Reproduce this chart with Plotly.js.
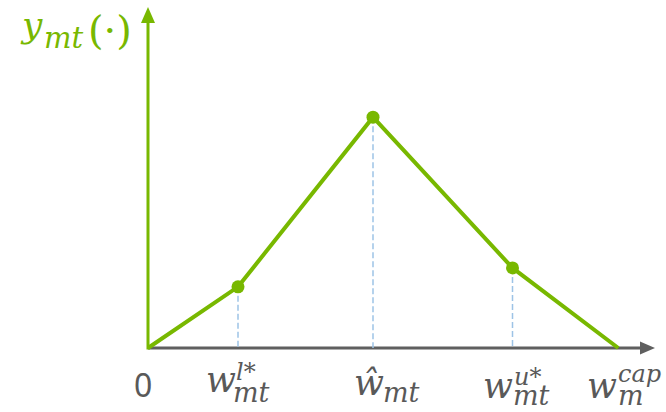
<!DOCTYPE html>
<html>
<head>
<meta charset="utf-8">
<script src="https://cdn.plot.ly/plotly-3.0.1.min.js"></script>
<style>
  html, body { margin: 0; padding: 0; background: #ffffff; }
  #chart { width: 666px; height: 412px; }
</style>
</head>
<body>
<div id="chart"></div>
<script>
// Piecewise-linear response y_mt(w): rises to a peak at ŵ_mt, then falls to zero at w_m^cap
const xKnots = [0, 2.0, 5.0, 8.1, 10.45];
const yKnots = [0, 1.36, 5.13, 1.78, 0];

// Axis label pieces under each knot: base symbol, subscript, superscript
const labelBase = ['0', 'w', 'ŵ', 'w', 'w'];
const labelSub  = ['',  'mt', 'mt', 'mt', 'm'];
const labelSup  = ['',  'l*', '',   'u*', 'cap'];

// Function name shown next to the vertical axis
const yName = { base: 'y', sub: 'mt', args: '(·)' };

// ---- geometry of the canvas ----
const W = 666, H = 412;
const X0 = 148, Y0 = 348;   // pixel position of the origin
const S = 45;               // pixels per data unit (both axes)
const px = v => v / S;      // pixel length -> data length

const GREEN = '#78b800';
const GREY = '#5f5f5f';
const TEXT = '#595959';
const DASH = '#9dc3e6';

const serif = 'DejaVu Serif, Liberation Serif, serif';
const K_SERIF = 0.346;      // (ascent - descent)/2 in em
const K_SANS = 0.388;

// Interior knots get a marker and a dashed drop line
const inner = [1, 2, 3];
const dropX = [], dropY = [];
inner.forEach(i => { dropX.push(xKnots[i], xKnots[i], null); dropY.push(yKnots[i], 0, null); });

const traces = [
  {
    x: dropX, y: dropY, mode: 'lines', hoverinfo: 'skip',
    line: { color: DASH, width: 1.5, dash: '6px,3px' }
  },
  {
    x: xKnots, y: yKnots, mode: 'lines', hoverinfo: 'skip',
    line: { color: GREEN, width: 4 }
  },
  {
    x: inner.map(i => xKnots[i]), y: inner.map(i => yKnots[i]),
    mode: 'markers', hoverinfo: 'skip',
    marker: { color: GREEN, size: 13, line: { width: 0 } }
  }
];

// Axes drawn as lines with filled triangular heads
const xEnd = px(655 - X0), yEnd = px(Y0 - 7);
const xHead = px(15), yHead = px(16);
const shapes = [
  { type: 'line', layer: 'below', x0: 0, y0: 0, x1: xEnd - xHead + px(1), y1: 0,
    line: { color: GREY, width: 3 } },
  { type: 'path', layer: 'below',
    path: `M ${xEnd - xHead},${px(-6.5)} L ${xEnd},0 L ${xEnd - xHead},${px(6.5)} Z`,
    fillcolor: GREY, line: { width: 0 } },
  { type: 'line', layer: 'below', x0: 0, y0: px(-1.5), x1: 0, y1: yEnd - yHead + px(1),
    line: { color: GREEN, width: 3 } },
  { type: 'path', layer: 'below',
    path: `M ${px(-7)},${yEnd - yHead} L 0,${yEnd} L ${px(7)},${yEnd - yHead} Z`,
    fillcolor: GREEN, line: { width: 0 } }
];

// Text placed by baseline offset (pixels below the x axis)
function axisText(xv, xs, baseDy, fs, text, anchor, opts) {
  opts = opts || {};
  const k = opts.k || K_SERIF;
  return {
    xref: 'x', yref: 'y', x: xv, y: 0, text: text, showarrow: false,
    xanchor: anchor, yanchor: 'middle', borderpad: 0,
    xshift: xs, yshift: -(baseDy - k * fs),
    font: { family: opts.family || serif, size: fs, color: opts.color || TEXT,
            style: opts.italic === false ? 'normal' : 'italic' }
  };
}
function pageText(leftPx, basePx, fs, text, opts) {
  opts = opts || {};
  return {
    xref: 'paper', yref: 'paper', x: leftPx / W, y: 1 - (basePx - K_SERIF * fs) / H,
    text: text, showarrow: false, xanchor: 'left', yanchor: 'middle', borderpad: 0,
    font: { family: serif, size: fs, color: GREEN,
            style: opts.italic === false ? 'normal' : 'italic' }
  };
}

// Per-label placement: [base centre shift, base baseline, sub left shift, sub baseline, sup left shift, sup baseline]
const place = [
  [-5, 49, 0, 0, 0, 0],
  [-17, 44, -6, 54, -3, 32],
  [-4, 47, 9, 54, 0, 0],
  [-15, 50, -1, 57, 0, 37],
  [-16, 50, -1, 57, -1, 34]
];

const annotations = [];
labelBase.forEach((b, i) => {
  const p = place[i];
  if (i === 0) {
    annotations.push(axisText(xKnots[i], p[0], p[1], 32, b, 'center',
      { family: 'Noto Sans, sans-serif', italic: false, k: K_SANS }));
    return;
  }
  annotations.push(axisText(xKnots[i], p[0], p[1], 35, b, 'center'));
  if (labelSub[i]) annotations.push(axisText(xKnots[i], p[2], p[3], 27, labelSub[i], 'left'));
  if (labelSup[i]) annotations.push(axisText(xKnots[i], p[4], p[5], 24, labelSup[i], 'left'));
});

annotations.push(pageText(19, 37, 36, yName.base));
annotations.push(pageText(43, 48, 29, yName.sub));
annotations.push(pageText(87, 44, 40, yName.args, { italic: false }));

const hidden = { visible: false, showgrid: false, zeroline: false, fixedrange: true };

const layout = {
  width: W, height: H,
  margin: { l: 0, r: 0, t: 0, b: 0, pad: 0 },
  paper_bgcolor: '#ffffff', plot_bgcolor: '#ffffff',
  showlegend: false,
  xaxis: Object.assign({ range: [-px(X0), px(W - X0)] }, hidden),
  yaxis: Object.assign({ range: [-px(H - Y0), px(Y0)] }, hidden),
  shapes: shapes,
  annotations: annotations
};

Plotly.newPlot('chart', traces, layout, { staticPlot: true, displayModeBar: false });
</script>
</body>
</html>
